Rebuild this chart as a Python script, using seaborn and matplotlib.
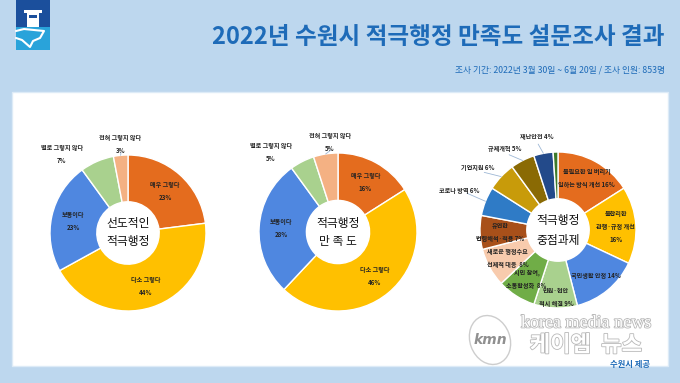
import numpy as np
import matplotlib
matplotlib.use("Agg")
import matplotlib.pyplot as plt
from matplotlib.patches import Rectangle, Ellipse
import matplotlib.patheffects as pe
import seaborn as sns

sns.set_theme(style="white")
plt.rcParams['font.family'] = ['Noto Sans CJK KR', 'DejaVu Sans']

# --- data
title = "2022년 수원시 적극행정 만족도 설문조사 결과"
subtitle = "조사 기간: 2022년 3월 30일 ~ 6월 20일 / 조사 인원: 853명"

scale_labels = ["매우 그렇다", "다소 그렇다", "보통이다", "별로 그렇지 않다", "전혀 그렇지 않다"]
pioneer_values = [23, 44, 23, 7, 3]
satisfaction_values = [16, 46, 28, 5, 5]

task_labels = ["불필요한 일 버리기\n일하는 방식 개선 16%", "불합리한\n관행·규정 개선\n16%",
               "국민생활 안정 14%", "민원·현안\n적시 해결 9%", "시민 참여,\n소통활성화  8%",
               "새로운 행정수요\n선제적 대응  8%", "유연한\n법령해석·적용 7%", "코로나 방역 6%",
               "기업지원 6%", "규제개혁 5%", "재난안전 4%", ""]
task_values = [16, 16, 14, 9, 8, 8, 7, 6, 6, 5, 4, 1]

center_titles = ["선도적인\n적극행정", "적극행정\n만 족 도", "적극행정\n중점과제"]

scale_colors = ["#E46C1E", "#FFC000", "#4F87E0", "#A9D18E", "#F4B183"]
task_colors = ["#E46C1E", "#FFC000", "#4F87E0", "#A9D18E", "#70AD47", "#F8CBAD",
               "#A8501A", "#2F7BC6", "#C89B0A", "#8A6A04", "#234A8A", "#3E7A2A"]

# label placement: (angle in degrees from 12 o'clock or None for mid-slice, radius, leader line)
scale_place = [(None, 0.72, False), (None, 0.72, False), (None, 0.72, False),
               (320, 1.32, False), (355, 1.14, True)]
task_place = [(None, 0.76, False), (None, 0.74, False), (None, 0.76, False),
              (None, 0.86, False), (None, 0.75, False), (None, 0.74, False),
              (None, 0.74, False), (292, 1.36, True), (308, 1.3, True),
              (327, 1.25, True), (347, 1.23, True), (None, 1.0, False)]

W, H = 680, 383
BLUE = "#1E6BB8"

fig = plt.figure(figsize=(6.8, 3.83), dpi=100)
fig.patch.set_facecolor("#BDD7EE")

# background layer in pixel coordinates (y down)
bg = fig.add_axes([0, 0, 1, 1], zorder=-5)
bg.set_xlim(0, W)
bg.set_ylim(H, 0)
bg.axis("off")
bg.add_patch(Rectangle((12, 92), 656, 274, facecolor="white", edgecolor="#DDEBF7", lw=1))

# logo
bg.add_patch(Rectangle((16, 0), 34, 50, facecolor="#29A3DA", edgecolor="none"))
bg.add_patch(Rectangle((16, 0), 34, 27, facecolor="#1B4F9C", edgecolor="none"))
bg.add_patch(Rectangle((27, 12), 12, 15, facecolor="white", edgecolor="none"))
bg.add_patch(Rectangle((24, 10), 18, 3, facecolor="white", edgecolor="none"))
bg.add_patch(Rectangle((29, 15), 8, 3, facecolor="#1B4F9C", edgecolor="none"))
bg.plot([16, 24, 44, 40, 33, 30, 22, 16], [31, 29, 31, 38, 41, 47, 40, 38],
        color="white", lw=1.5)

bg.text(665, 37, title, ha="right", va="center", fontsize=17, color=BLUE,
        fontweight="bold")
bg.text(665, 70, subtitle, ha="right", va="center", fontsize=6.3, color=BLUE,
        fontweight="medium")


def fx(x):
    return x / W


def fy(y):
    return 1 - y / H


def donut(cx, cy, r, values, colors, labels, place, center_text, cspacing=1.5):
    half = 105
    ax = fig.add_axes([fx(cx - half), fy(cy + half), 2 * half / W, 2 * half / H], zorder=1)
    ax.pie(values, colors=colors, startangle=90, counterclock=False, radius=1,
           wedgeprops=dict(width=0.6, edgecolor="white", linewidth=1))
    lim = half / r
    ax.set_xlim(-lim, lim)
    ax.set_ylim(-lim, lim)
    ax.set_aspect("equal")
    ax.axis("off")

    cum = np.cumsum([0] + list(values))
    total = float(sum(values))
    for i, lab in enumerate(labels):
        if not lab:
            continue
        ang, rad, leader = place[i]
        mid = (cum[i] + values[i] / 2) / total * 2 * np.pi
        a = mid if ang is None else np.deg2rad(ang)
        if leader:
            ax.plot([np.sin(mid) * 1.0, np.sin(a) * (rad - 0.1)],
                    [np.cos(mid) * 1.0, np.cos(a) * (rad - 0.1)], color="#9DB7D5", lw=0.6)
        ax.text(np.sin(a) * rad, np.cos(a) * rad, lab, ha="center", va="center",
                fontsize=4.4, color="#222222", linespacing=2.0, fontweight="bold")
    ax.text(0, 0, center_text, ha="center", va="center", fontsize=8.5, color="#111111",
            linespacing=cspacing, fontweight="medium")
    return ax


scale_text = [f"{l}\n{v}%" for l, v in zip(scale_labels, pioneer_values)]
donut(128, 233, 78, pioneer_values, scale_colors, scale_text, scale_place, center_titles[0])

scale_text2 = [f"{l}\n{v}%" for l, v in zip(scale_labels, satisfaction_values)]
donut(338, 232, 79, satisfaction_values, scale_colors, scale_text2, scale_place, center_titles[1])

donut(558, 230, 78, task_values, task_colors, task_labels, task_place, center_titles[2],
      cspacing=1.7)

# watermark overlay
top = fig.add_axes([0, 0, 1, 1], zorder=10)
top.set_xlim(0, W)
top.set_ylim(H, 0)
top.axis("off")
stroke = [pe.withStroke(linewidth=1.2, foreground="#B8B8B8")]
top.add_patch(Ellipse((490, 340), 40, 50, angle=-20, facecolor="white", edgecolor="#C8C8C8",
                      lw=1, alpha=0.9))
top.text(490, 340, "kmn", ha="center", va="center", fontsize=10, color="#909090",
         style="italic", fontweight="bold", family="DejaVu Sans")
top.text(586, 323, "korea media news", ha="center", va="center", fontsize=13,
         color="white", family="Liberation Serif", path_effects=stroke)
top.text(586, 345, "케이엠  뉴스", ha="center", va="center", fontsize=16,
         color="white", fontweight="bold", path_effects=stroke)
top.text(630, 364, "수원시 제공", ha="center", va="center", fontsize=6,
         color=BLUE, fontweight="bold")

fig.savefig("out.png", dpi=100, facecolor=fig.get_facecolor())
